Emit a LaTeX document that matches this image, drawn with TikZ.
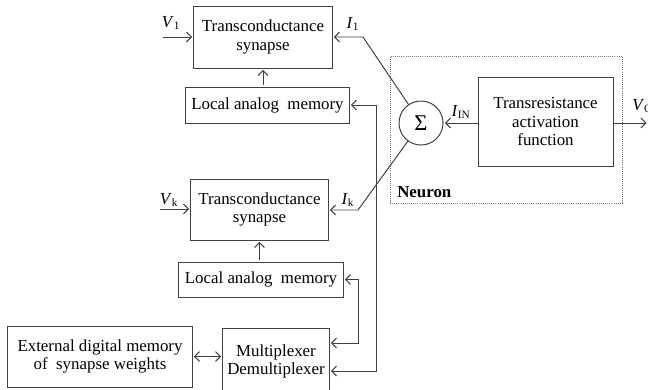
\documentclass[tikz,border=0pt]{standalone}
\usepackage{fontspec}
\setmainfont{Liberation Serif}
\usepackage{tikz}
\usetikzlibrary{arrows.meta,positioning,calc}

\begin{document}
\begin{tikzpicture}[x=0.025cm,y=-0.025cm,
  >={Straight Barb[length=3.5pt,width=7pt]},
  every node/.style={font=\fontsize{12}{13}\selectfont},
  blk/.style={draw=black!75,line width=0.7pt,align=center,inner sep=0pt},
  lnk/.style={draw=black!75,line width=0.7pt,shorten >=1pt,shorten <=1pt},
  lab/.style={inner sep=0pt}]
  \useasboundingbox (0,0) rectangle (648,389); %画布大小与原图一致
  \node (neuron) [draw=black!55,densely dotted,line width=0.5pt,minimum width=5.8cm,minimum height=3.675cm] at (506,129.5) {};
  \node (nlab) [font=\bfseries\fontsize{12}{13}\selectfont,anchor=base west,inner sep=0pt] at (397,197) {Neuron};
  \node (syn1) [blk,minimum width=3.45cm,minimum height=1.55cm] at (263,37) {Transconductance\\synapse};
  \node (mem1) [blk,minimum width=4.075cm,minimum height=0.9cm] at (267.5,105) {Local analog\ \ memory};
  \node (syn2) [blk,minimum width=3.425cm,minimum height=1.525cm] at (259.5,209.5) {Transconductance\\synapse};
  \node (mem2) [blk,minimum width=4.1cm,minimum height=0.875cm] at (261,279.5) {Local analog\ \ memory};
  \node (mux) [blk,minimum width=2.65cm,minimum height=1.675cm] at (276,361.5) {Multiplexer\\Demultiplexer};
  \node (ext) [blk,minimum width=4.6cm,minimum height=1.525cm] at (100,356.5) {External digital memory\\of\ \ synapse weights};
  \node (trans) [blk,minimum width=3.375cm,minimum height=2.225cm] at (545.5,121.5) {Transresistance\\activation\\function};
  \node (sum) [circle,draw=black!75,line width=0.7pt,minimum size=1.1cm,inner sep=0pt,font=\fontsize{16}{16}\selectfont] at (421,123) {Σ};
  % 标签
  \node (v1) [lab] at (171,23) {\textit{V}\textsubscript{1}};
  \node (i1lab) [lab] at (353,24) {\textit{I}\textsubscript{1}};
  \node (vk) [lab] at (169,200) {\textit{V}\textsubscript{k}};
  \node (iklab) [lab] at (348,200) {\textit{I}\textsubscript{k}};
  \node (iin) [lab] at (461,112) {\textit{I}\textsubscript{IN}};
  \node (vo) [lab,anchor=base west] at (632,110) {\textit{V}\textsubscript{O}};
  \coordinate (v1in) at (162,37);
  \coordinate (i1) at (363,37);
  \coordinate (vkin) at (159,209);
  \coordinate (ik) at (358,210);
  \coordinate (vout) at (648,123);
  \coordinate (b1) at (376,371);
  \coordinate (b2) at (358,343);
  % 连线
  \draw[lnk,->] (v1in) -- (v1in -| syn1.west);
  \draw[lnk,->] (vkin) -- (vkin -| syn2.west);
  \draw[lnk,->,shorten <=0pt] (sum) -- (i1) -- (i1 -| syn1.east);
  \draw[lnk,->,shorten <=0pt] (sum) -- (ik) -- (ik -| syn2.east);
  \draw[lnk,->,shorten <=0pt] (trans.west |- sum) -- (sum);
  \draw[lnk,->,shorten <=0pt] (trans.east |- vout) -- (vout);
  \draw[lnk,->] (syn1.south |- mem1.north) -- (syn1.south);
  \draw[lnk,->] (syn2.south |- mem2.north) -- (syn2.south);
  \draw[lnk,<->] (mem1.east) -| (b1) -- (b1 -| mux.east);
  \draw[lnk,<->] (mem2.east) -| (b2) -- (b2 -| mux.east);
  \draw[lnk,<->] (ext.east) -- (ext.east -| mux.west);
\end{tikzpicture}
\end{document}
